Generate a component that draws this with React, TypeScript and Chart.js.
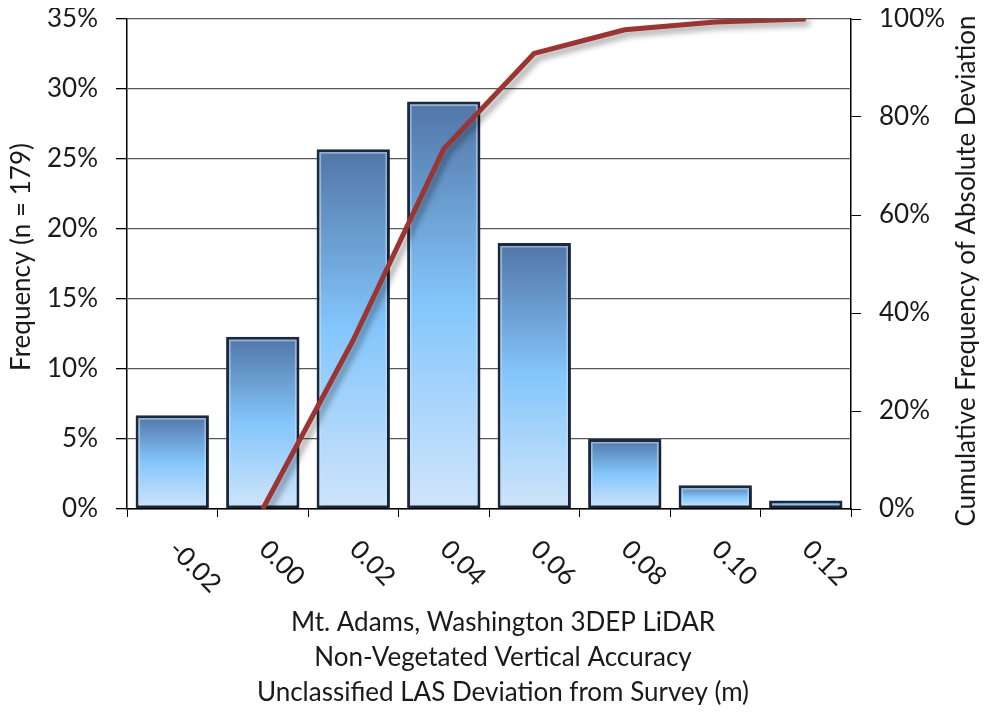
import React, { useEffect, useRef } from "react";
import { Chart, registerables } from "chart.js";

Chart.register(...registerables);

// Deviation bins (m)
const categories = ["-0.02", "0.00", "0.02", "0.04", "0.06", "0.08", "0.10", "0.12"];
// Share of the 179 check points in each bin (%)
const frequencyPct = [6.7, 12.3, 25.7, 29.1, 19.0, 5.0, 1.7, 0.6];
// Cumulative frequency of absolute deviation (%)
const cumulativePct = [null, 0, 34.5, 73.5, 93.0, 97.8, 99.4, 100];

const leftAxis = { min: 0, max: 35, step: 5 };
const rightAxis = { min: 0, max: 100, step: 20 };

const leftTitle = "Frequency (n = 179)";
const rightTitle = "Cumulative Frequency of Absolute Deviation";
const bottomTitle = [
  "Mt. Adams, Washington 3DEP LiDAR",
  "Non-Vegetated Vertical Accuracy",
  "Unclassified LAS Deviation from Survey (m)",
];

const FONT = "Lato, 'Open Sans', sans-serif";
const FONT_SIZE = 26;
const TEXT = "#1a1a1a";

const W = 971;
const H = 697;

// soft drop shadow under the cumulative line and bars, bevel on bars, plus custom text
const decorPlugin = {
  id: "decor",
  beforeDatasetDraw(chart: any, args: any) {
    const ctx = chart.ctx;
    ctx.save();
    if (args.meta.type === "line") {
      ctx.shadowColor = "rgba(0,0,0,0.4)";
      ctx.shadowBlur = 6;
      ctx.shadowOffsetX = 4;
      ctx.shadowOffsetY = 4;
    } else {
      ctx.shadowColor = "rgba(0,0,0,0.22)";
      ctx.shadowBlur = 4;
      ctx.shadowOffsetX = 3;
      ctx.shadowOffsetY = 3;
    }
  },
  afterDatasetDraw(chart: any, args: any) {
    const ctx = chart.ctx;
    ctx.restore();
    if (args.meta.type === "bar") {
      ctx.save();
      ctx.strokeStyle = "rgba(200,225,250,0.55)";
      ctx.lineWidth = 1.5;
      args.meta.data.forEach((el: any) => {
        const p = el.getProps(["x", "y", "base", "width"], true);
        const h = p.base - p.y;
        if (h > 9) {
          ctx.strokeRect(p.x - p.width / 2 + 3.75, p.y + 3.75, p.width - 7.5, h - 7.5);
        }
      });
      ctx.restore();
    }
  },
  afterDraw(chart: any) {
    const ctx = chart.ctx;
    const x = chart.scales.x;
    const area = chart.chartArea;
    ctx.save();
    ctx.fillStyle = TEXT;
    ctx.font = `${FONT_SIZE}px ${FONT}`;

    // category labels, turned 45° clockwise, starting under each tick
    ctx.textAlign = "left";
    ctx.textBaseline = "middle";
    categories.forEach((label, i) => {
      const px = x.getPixelForTick(i);
      ctx.save();
      ctx.translate(px + 1, x.top + 36);
      ctx.rotate(Math.PI / 4);
      ctx.fillText(label, 0, 0);
      ctx.restore();
    });

    // axis titles
    ctx.textAlign = "center";
    ctx.textBaseline = "middle";
    const lineGap = 35;
    bottomTitle.forEach((line, i) => {
      ctx.fillText(line, 495, 615 + i * lineGap);
    });

    const midY = (area.top + area.bottom) / 2;
    ctx.save();
    ctx.translate(14, midY - 7);
    ctx.rotate(-Math.PI / 2);
    ctx.fillText(leftTitle, 0, 0);
    ctx.restore();

    ctx.save();
    ctx.translate(959, midY + 7);
    ctx.rotate(-Math.PI / 2);
    ctx.fillText(rightTitle, 0, 0);
    ctx.restore();

    ctx.restore();
  },
};

function barFill(c: any) {
  const chart = c.chart;
  const y = chart.scales && chart.scales.y;
  if (!chart.chartArea || !y || typeof c.raw !== "number") return "#7fb6ec";
  const top = y.getPixelForValue(c.raw);
  const bottom = y.getPixelForValue(0);
  if (!isFinite(top) || !isFinite(bottom) || bottom - top < 1) return "#7fb6ec";
  const g = chart.ctx.createLinearGradient(0, top, 0, bottom);
  g.addColorStop(0, "#5175a7");
  g.addColorStop(0.5, "#84c6fb");
  g.addColorStop(1, "#d0e5fa");
  return g;
}

// vertical axes keep a fixed width and no extra top/bottom room for labels
const fixVertical = (width: number) => (s: any) => {
  s.width = width;
  s.paddingTop = 0;
  s.paddingBottom = 0;
};

export default function App() {
  const canvasRef = useRef<HTMLCanvasElement | null>(null);

  useEffect(() => {
    const canvas = canvasRef.current;
    if (!canvas) return;
    const chart = new Chart(canvas, {
      type: "bar",
      data: {
        labels: categories,
        datasets: [
          {
            type: "line",
            label: "Cumulative",
            data: cumulativePct as any,
            yAxisID: "y2",
            borderColor: "#9a3532",
            borderWidth: 5,
            pointRadius: 0,
            tension: 0,
            borderJoinStyle: "round",
            spanGaps: false,
            order: 0,
          } as any,
          {
            type: "bar",
            label: "Frequency",
            data: frequencyPct,
            yAxisID: "y",
            backgroundColor: barFill,
            borderColor: "#1b2a3f",
            borderWidth: 3,
            borderSkipped: false,
            barPercentage: 0.81,
            categoryPercentage: 1,
            order: 1,
          } as any,
        ],
      },
      options: {
        responsive: false,
        animation: false,
        devicePixelRatio: 1,
        layout: { padding: { top: 11, left: 0, right: 0, bottom: 0 }, autoPadding: false } as any,
        plugins: {
          legend: { display: false },
          tooltip: { enabled: false },
        },
        scales: {
          x: {
            type: "category",
            offset: true,
            grid: {
              display: true,
              drawOnChartArea: false,
              drawTicks: true,
              tickLength: 8,
              tickColor: "#000",
              offset: true,
            },
            border: { display: true, color: "#000", width: 1.5 },
            ticks: { display: false },
            afterFit: (s: any) => {
              s.height = 196;
              s.paddingLeft = 0;
              s.paddingRight = 0;
            },
          } as any,
          y: {
            position: "left",
            min: leftAxis.min,
            max: leftAxis.max,
            grid: {
              color: "#595959",
              lineWidth: 1.3,
              drawTicks: true,
              tickLength: 11,
              tickColor: "#000",
            },
            border: { display: true, color: "#000", width: 1.5 },
            ticks: {
              stepSize: leftAxis.step,
              padding: 18,
              color: TEXT,
              font: { family: FONT, size: FONT_SIZE },
              callback: (v: any) => `${v}%`,
            },
            afterFit: fixVertical(119),
          } as any,
          y2: {
            position: "right",
            min: rightAxis.min,
            max: rightAxis.max,
            grid: {
              drawOnChartArea: false,
              drawTicks: true,
              tickLength: 10,
              tickColor: "#000",
            },
            border: { display: true, color: "#000", width: 1.5 },
            ticks: {
              stepSize: rightAxis.step,
              padding: 18,
              color: TEXT,
              font: { family: FONT, size: FONT_SIZE },
              callback: (v: any) => `${v}%`,
            },
            afterFit: fixVertical(W - 843),
          } as any,
        },
      },
      plugins: [decorPlugin],
    });
    return () => chart.destroy();
  }, []);

  return (
    <div style={{ width: W, height: H }}>
      <canvas ref={canvasRef} width={W} height={H} style={{ display: "block" }} />
    </div>
  );
}
